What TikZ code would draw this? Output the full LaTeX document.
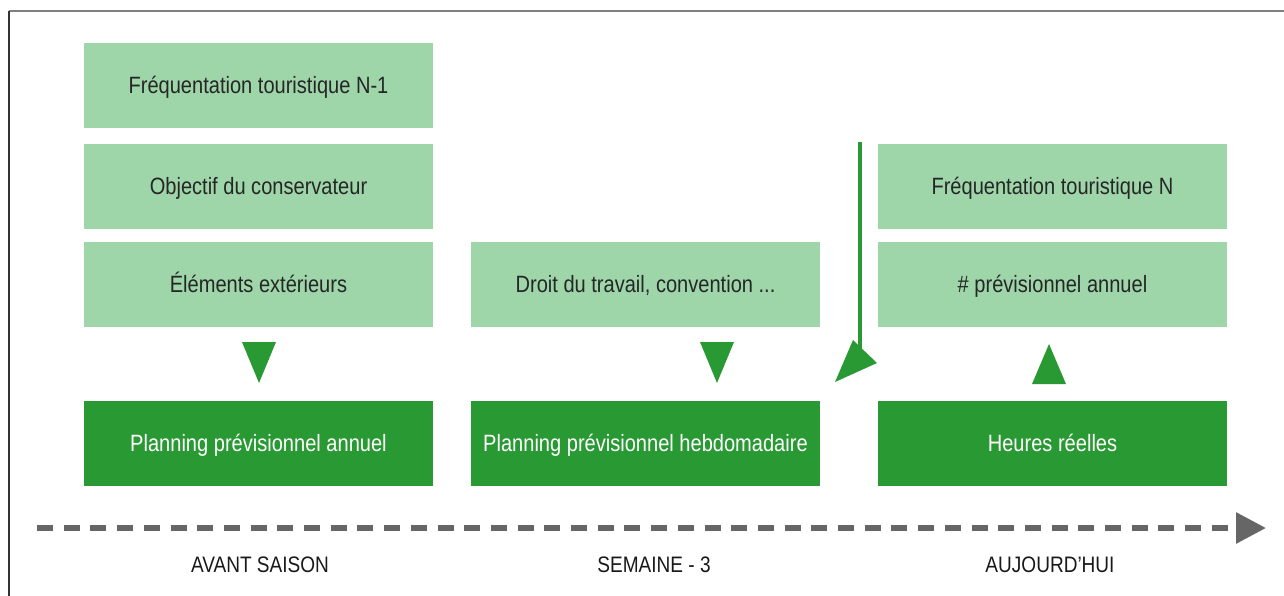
\documentclass[tikz,border=0pt]{standalone}
\usepackage{fontspec}
\setmainfont{Liberation Sans}[FakeStretch=0.85]
\usepackage{xcolor}
\usepackage{tikz}
\usetikzlibrary{positioning,arrows.meta}
\definecolor{softgreen}{HTML}{9ED6AA}
\definecolor{deepgreen}{HTML}{299A33}
\definecolor{timeline}{HTML}{666666}
\definecolor{framegray}{HTML}{808080}

\begin{document}
\begin{tikzpicture}[
        x=0.5pt, y=-0.5pt,
        box/.style={
            rectangle,
            fill=softgreen,
            text=black!85,
            align=center,
            minimum width=174.5pt,
            minimum height=42.5pt,
            text height=9.6pt,
            text depth=1.4pt,
            inner sep=0pt,
            font=\fontsize{11.8}{14}\selectfont
        },
        plan/.style={
            box,
            fill=deepgreen,
            text=white
        },
        period/.style={
            text=black!90,
            inner sep=0pt,
            text height=8.2pt,
            text depth=0pt,
            font=\fontsize{11.2}{14}\selectfont
        },
        marker/.style={
            fill=deepgreen
        },
        arrow/.style={
            -{Triangle[length=15pt,width=15pt]},
            line width=3pt,
            dash pattern=on 8pt off 5.35pt,
            color=timeline
        }
    ]
        \useasboundingbox (0,0) rectangle (1284,595);
        \draw[framegray, line width=1.2pt] (9,11) -- (1290,11);
        \draw[black!80, line width=1.1pt] (9,11) -- (9,600);

        % avant saison
        \node[box] (freqA) at (258.5,85.5) {Fréquentation touristique N-1};
        \node[box] (objA) [below of=freqA, node distance=50.5pt] {Objectif du conservateur};
        \node[box] (elemA) [below of=objA, node distance=49pt] {Éléments extérieurs};
        \node[plan] (planA) [below of=elemA, node distance=79.5pt] {Planning prévisionnel annuel};

        % semaine - 3
        \node[box] (droit) [right of=elemA, node distance=193.5pt] {Droit du travail, convention ...};
        \node[plan] (planH) [below of=droit, node distance=79.5pt] {Planning prévisionnel hebdomadaire};

        % aujourd'hui
        \node[box] (freqN) [right of=objA, node distance=397pt] {Fréquentation touristique N};
        \node[box] (prevN) [below of=freqN, node distance=49pt] {\# prévisionnel annuel};
        \node[plan] (heures) [below of=prevN, node distance=79.5pt] {Heures réelles};

        % markers
        \fill[marker] (242,342) -- (276,342) -- (259,383) -- cycle;
        \fill[marker] (700,342) -- (734,342) -- (717,383) -- cycle;
        \fill[marker] (1032,384) -- (1066,384) -- (1049,344) -- cycle;
        \coordinate (drop) at (860,142);
        \coordinate (dropEnd) at (860,352);
        \draw[deepgreen, line width=1.6pt] (drop) -- (dropEnd);
        \fill[marker] (853,340) -- (877,363) -- (835,382) -- cycle;

        % timeline
        \coordinate (t0) at (37,528);
        \coordinate (t1) at (1266,528);
        \draw[arrow] (t0) -- (t1);

        \node[period] (lblA) at (260,564) {AVANT SAISON};
        \node[period] (lblS) at (654,564) {SEMAINE - 3};
        \node[period] (lblJ) at (1050,564) {AUJOURD’HUI};
    \end{tikzpicture}
\end{document}
